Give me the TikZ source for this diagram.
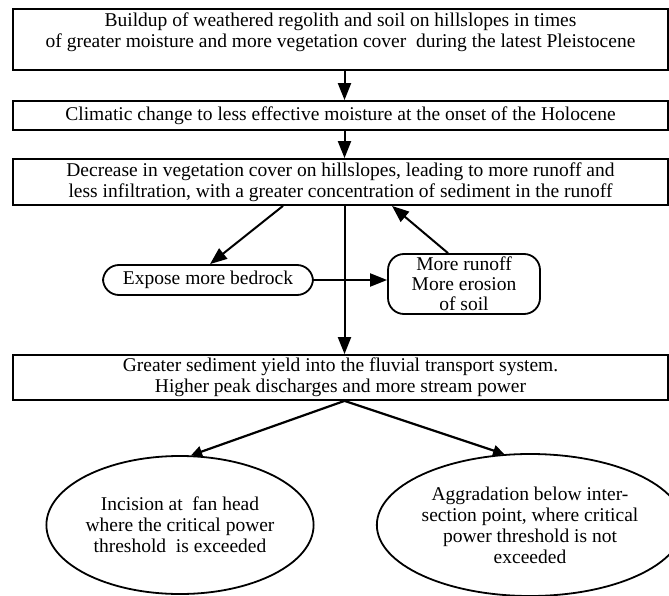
\documentclass[tikz,border=0pt]{standalone}
\usepackage{fontspec}
\setmainfont{Liberation Serif}
\usetikzlibrary{arrows.meta, positioning, shapes.geometric}

\tikzset{
    stagebox/.style={draw, line width=1.8pt, minimum width=655pt, align=center, inner sep=1pt, font=\fontsize{19.5}{21}\selectfont},
    roundbox/.style={draw, line width=1.8pt, rounded corners=16pt, align=center, inner sep=1pt, font=\fontsize{19.5}{20}\selectfont},
    outcome/.style={draw, line width=1.8pt, ellipse, align=center, inner sep=0pt, font=\fontsize{19.5}{21}\selectfont},
    flow/.style={line width=2pt, -{Triangle[length=17pt, width=13pt]}},
    branch/.style={line width=2.2pt, -{Triangle[length=11pt, width=11pt]}}
}

\begin{document}
\begin{tikzpicture}[x=1pt, y=-1pt]

        \useasboundingbox (0,0) rectangle (669,596);

        % Main chain of boxes
        \node[stagebox, minimum height=61pt, text depth=18pt] (buildup) at (340.5,39.5)
            {Buildup of weathered regolith and soil on hillslopes in times\\
             of greater moisture and more vegetation cover\ \ during the latest Pleistocene};
        \node[stagebox, minimum height=29pt] (climate) at (340.5,115.5)
            {Climatic change to less effective moisture at the onset of the Holocene};
        \node[stagebox, minimum height=46pt] (vegetation) at (340.5,182)
            {Decrease in vegetation cover on hillslopes, leading to more runoff and\\
             less infiltration, with a greater concentration of sediment in the runoff};

        % Feedback loop
        \node[roundbox, minimum width=210pt, minimum height=30pt] (bedrock) at (208,280) {Expose more bedrock};
        \node[roundbox, minimum width=152pt, minimum height=60pt] (runoff) at (464,284)
            {More runoff\\More erosion\\of soil};

        \node[stagebox, minimum height=45pt] (yield) at (340.5,377.5)
            {Greater sediment yield into the fluvial transport system.\\
             Higher peak discharges and more stream power};

        % Outcomes
        \node[outcome, minimum width=246pt, minimum height=138pt] (incision) at (180,525)
            {Incision at\ \ fan head\\where the critical power\\threshold\ \ is exceeded};
        \node[outcome, minimum width=272pt, minimum height=142pt] (aggradation) at (530,525)
            {Aggradation below inter-\\section point, where critical\\power threshold is not\\exceeded};

        % Stem of the chain
        \coordinate (stem) at (344.5,0);
        \draw[flow] (buildup.south -| stem) -- (climate.north -| stem);
        \draw[flow] (climate.south -| stem) -- (vegetation.north -| stem);
        \draw[flow] (vegetation.south -| stem) -- (yield.north -| stem);

        % Loop arrows
        \draw[flow] ([xshift=-57.5pt]vegetation.south) -- ([xshift=2pt]bedrock.north);
        \draw[flow] (bedrock.east) -- (bedrock.east -| runoff.west);
        \draw[flow] ([xshift=-16pt]runoff.north) -- ([xshift=51.5pt]vegetation.south);

        % Branches to outcomes
        \draw[branch] ([xshift=4pt]yield.south) -- (incision.81);
        \draw[branch] ([xshift=4pt]yield.south) -- (aggradation.110);

\end{tikzpicture}
\end{document}
